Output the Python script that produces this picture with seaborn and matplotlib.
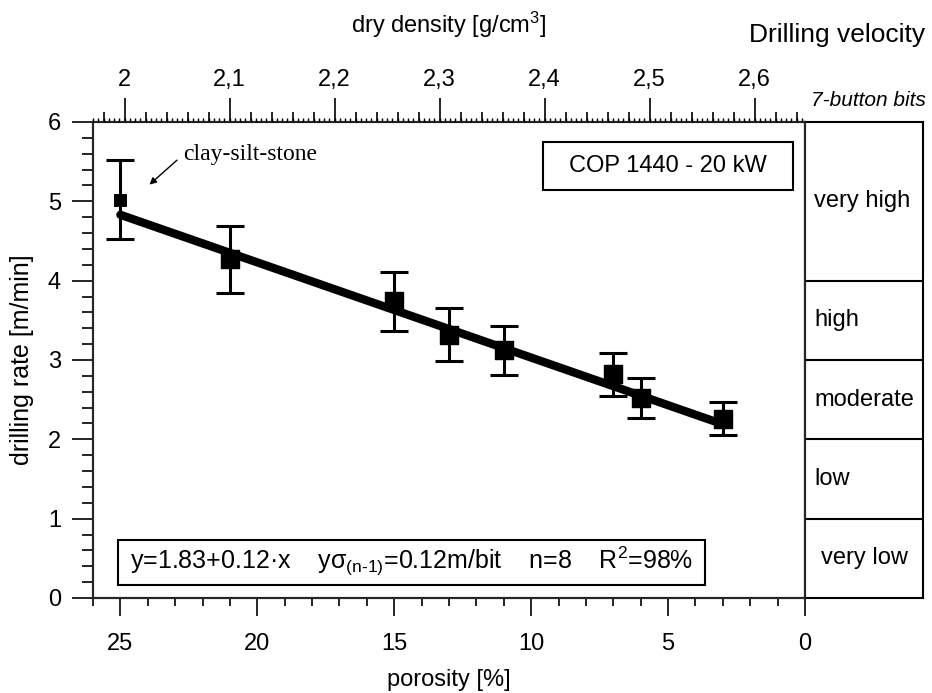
import matplotlib
matplotlib.use("Agg")
import matplotlib.pyplot as plt
import matplotlib.ticker as mticker
from matplotlib.patches import Rectangle
import seaborn as sns
import pandas as pd

# Messwerte (Porosität, Bohrgeschwindigkeit, Streuung)
porosity = [25, 21, 15, 13, 11, 7, 6, 3]
drill_rate = [5.02, 4.27, 3.74, 3.32, 3.12, 2.82, 2.52, 2.26]
drill_err = [0.50, 0.42, 0.37, 0.33, 0.31, 0.27, 0.25, 0.21]

# Regression y = a + b*x
fit_a = 1.83
fit_b = 0.12
fit_x = [25, 3]

# Klassen der Bohrgeschwindigkeit
class_bounds = [1, 2, 3, 4]
class_names = ["very low", "low", "moderate", "high", "very high"]
class_mid = [0.5, 1.5, 2.5, 3.5, 5.0]

density_ticks = [2.0, 2.1, 2.2, 2.3, 2.4, 2.5, 2.6]
density_range = (1.97, 2.648)

sns.set_style("ticks")
plt.rcParams["font.family"] = ["Liberation Sans", "DejaVu Sans"]
plt.rcParams["mathtext.fontset"] = "custom"
plt.rcParams["mathtext.rm"] = "Liberation Sans"
plt.rcParams["mathtext.it"] = "Liberation Sans:italic"
plt.rcParams["text.color"] = "black"
plt.rcParams["axes.labelcolor"] = "black"
plt.rcParams["xtick.color"] = "black"
plt.rcParams["ytick.color"] = "black"

df = pd.DataFrame({"porosity": porosity, "rate": drill_rate, "err": drill_err})
df_fit = pd.DataFrame({"porosity": fit_x,
                       "rate": [fit_a + fit_b * x for x in fit_x]})

fig = plt.figure(figsize=(9.32, 6.93), dpi=100)
ax = fig.add_axes([0.0998, 0.1371, 0.7639, 0.6869])
ax_cls = fig.add_axes([0.8637, 0.1371, 0.1266, 0.6869])

# Regressionsgerade
sns.lineplot(data=df_fit, x="porosity", y="rate", ax=ax, color="black",
             linewidth=6, zorder=3)

# Fehlerbalken
ax.errorbar(df["porosity"], df["rate"], yerr=df["err"], fmt="none",
            ecolor="black", elinewidth=2.2, capsize=10, capthick=2.2, zorder=2)

# Punkte
sns.scatterplot(data=df.iloc[:1], x="porosity", y="rate", ax=ax, marker="s",
                s=70, color="black", edgecolor="black", zorder=4)
sns.scatterplot(data=df.iloc[1:], x="porosity", y="rate", ax=ax, marker="s",
                s=160, color="black", edgecolor="black", zorder=4)

ax.set_xlim(26, 0)
ax.set_ylim(0, 6)
ax.xaxis.set_major_locator(mticker.MultipleLocator(5))
ax.xaxis.set_minor_locator(mticker.MultipleLocator(1))
ax.yaxis.set_major_locator(mticker.MultipleLocator(1))
ax.yaxis.set_minor_locator(mticker.MultipleLocator(0.2))
ax.tick_params(axis="x", which="major", length=13, width=1.2, labelsize=17, pad=12)
ax.tick_params(axis="x", which="minor", length=6, width=1.2)
ax.tick_params(axis="y", which="major", length=15, width=1.2, labelsize=17, pad=8)
ax.tick_params(axis="y", which="minor", length=8, width=1.2)
ax.set_xlabel("porosity [%]", fontsize=17, labelpad=10)
ax.set_ylabel("drilling rate [m/min]", fontsize=18, labelpad=10)
for s in ax.spines.values():
    s.set_visible(True)
    s.set_linewidth(1.5)
    s.set_color("black")

# obere Achse: Trockendichte
ax_top = ax.twiny()
ax_top.set_xlim(*density_range)
ax_top.set_xticks(density_ticks)
ax_top.xaxis.set_minor_locator(mticker.MultipleLocator(0.02))
ax_top.xaxis.set_major_formatter(
    mticker.FuncFormatter(lambda v, p: f"{v:g}".replace(".", ",")))
ax_top.tick_params(axis="x", which="major", length=17, width=1.2, labelsize=17, pad=5)
ax_top.tick_params(axis="x", which="minor", length=7, width=1.2)
ax_top.set_xlabel("dry density [g/cm$^{\\mathregular{3}}$]", fontsize=17, labelpad=26)
for s in ax_top.spines.values():
    s.set_linewidth(1.5)

# feine Striche der oberen Achse
ax_fine = ax.twiny()
ax_fine.set_xlim(*density_range)
ax_fine.set_xticks([])
ax_fine.xaxis.set_minor_locator(mticker.MultipleLocator(0.005))
ax_fine.tick_params(axis="x", which="minor", length=3, width=1)
for s in ax_fine.spines.values():
    s.set_visible(False)

# Textkästen
ax.add_patch(Rectangle((0.632, 0.857), 0.351, 0.101, transform=ax.transAxes,
                       fill=False, edgecolor="black", linewidth=1.5, zorder=5))
ax.text(0.807, 0.907, "COP 1440 - 20 kW", transform=ax.transAxes,
        ha="center", va="center", fontsize=17)
ax.add_patch(Rectangle((0.035, 0.027), 0.825, 0.095, transform=ax.transAxes,
                       fill=False, edgecolor="black", linewidth=1.5, zorder=5))
ax.text(0.4475, 0.076,
        "y=1.83+0.12·x    yσ$_{\\mathregular{(n\u20101)}}$=0.12m/bit    n=8    "
        "R$^{\\mathregular{2}}$=98%",
        transform=ax.transAxes, ha="center", va="center", fontsize=18)

ax.annotate("clay-silt-stone", xy=(23.94, 5.21), xytext=(22.7, 5.59),
            ha="left", va="center", fontsize=17, family="Liberation Serif",
            arrowprops=dict(arrowstyle="-|>", color="black", lw=1,
                            mutation_scale=10, relpos=(0, 0.5),
                            shrinkA=3, shrinkB=0))

# Klassen-Spalte
ax_cls.set_ylim(0, 6)
ax_cls.set_xlim(0, 1)
ax_cls.set_xticks([])
ax_cls.set_yticks([])
for b in class_bounds:
    ax_cls.axhline(b, color="black", linewidth=1.5)
for name, ym in zip(class_names, class_mid):
    xoff = 0.14 if name == "very low" else 0.08
    ax_cls.text(xoff, ym, name, ha="left", va="center", fontsize=17)
for s in ax_cls.spines.values():
    s.set_visible(True)
    s.set_linewidth(1.5)
    s.set_color("black")

fig.text(0.993, 0.949, "Drilling velocity", ha="right", va="center", fontsize=19)
fig.text(0.993, 0.855, "7-button bits", ha="right", va="center", fontsize=15,
         style="italic")

fig.savefig("out.png", dpi=100)
